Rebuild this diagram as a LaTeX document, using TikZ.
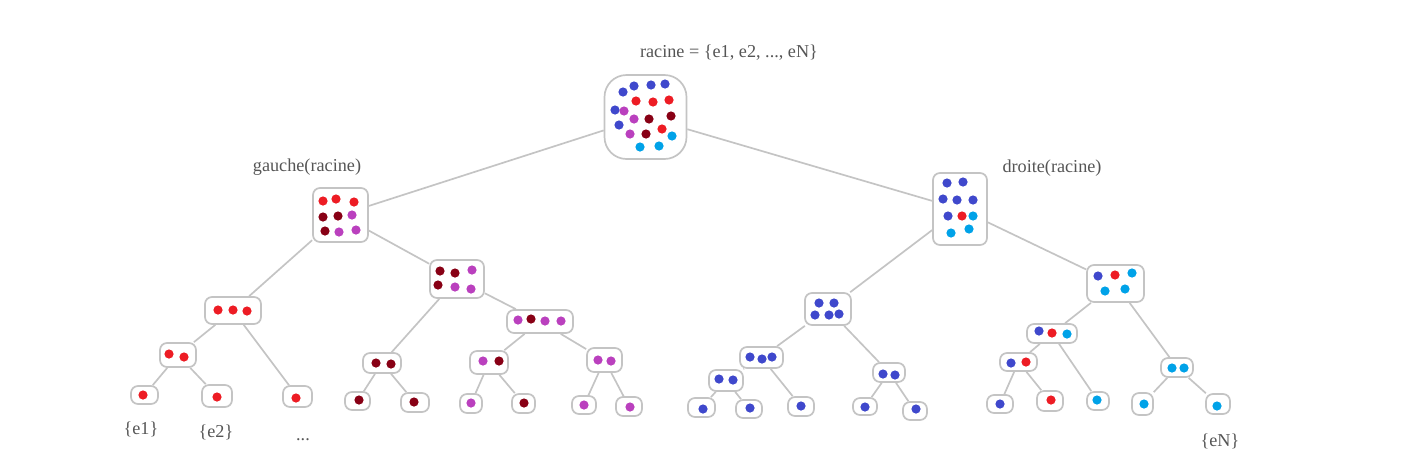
\documentclass[tikz,border=0pt]{standalone}
\usepackage{fontspec}
\setmainfont{Liberation Serif}
\definecolor{trait}{RGB}{196,196,196}
\definecolor{texte}{RGB}{85,85,85}
\definecolor{bleu}{RGB}{63,72,204}
\definecolor{rouge}{RGB}{237,28,36}
\definecolor{bordeaux}{RGB}{136,0,21}
\definecolor{violet}{RGB}{186,64,190}
\definecolor{cyan}{RGB}{0,162,232}
\begin{document}
\begin{tikzpicture}[x=1pt, y=-1pt,
		boite/.style={draw=trait, line width=1.7pt, fill=white, rounded corners=7pt, inner sep=0pt},
		lien/.style={draw=trait, line width=1.7pt},
		legende/.style={text=texte, font=\fontsize{18.2}{21}\selectfont, anchor=base}]
	\useasboundingbox (0,0) rectangle (1416,475);
	% les ensembles (centre, largeur, hauteur)
	\foreach \nom/\cx/\cy/\w/\h in {
			g/340.5/215/55/54, gl/233/310.5/56/27, gll/178/355/36/24, glll/144.5/395/27/18,
			gllr/217/396/30/22, glr/297.5/396.5/29/21, gr/457/279/54/38, grl/382/363/38/20,
			grll/357.5/401/25/18, grlr/415/402.5/28/19, grr/540/321.5/66/23, grrl/489/362.5/38/23,
			grrll/471/403.5/22/19, grrlr/523.5/403.5/23/19, grrr/604.5/360/35/24, grrrl/584/405/24/18,
			grrrr/629/406.5/26/19,
			d/960/209/54/72, dl/828/309/46/32, dll/761.5/357.5/43/21, dlll/726/380.5/34/21,
			dllll/701.5/407.5/27/19, dlllr/749/409/26/18, dllr/801/406.5/26/19, dlr/889/372.5/32/19,
			dlrl/865/406.5/24/17, dlrr/915/411/24/18, dr/1115.5/283.5/57/37, drl/1052/333.5/50/19,
			drll/1018.5/362/37/18, drlll/1000/404/26/18, drllr/1050/401/26/20, drlr/1098/401/22/18,
			drr/1177/367.5/32/19, drrl/1142.5/404/21/22, drrr/1218/404/24/20} {
		\node[boite, minimum width=\w pt, minimum height=\h pt] (\nom) at (\cx,\cy) {};
	}
	\node[boite, rounded corners=22pt, minimum width=82pt, minimum height=84pt] (racine) at (645.5,117) {};
	\foreach \a/\b in {racine/g, racine/d, g/gl, g/gr, gl/gll, gl/glr, gll/glll, gll/gllr,
			gr/grl, gr/grr, grl/grll, grl/grlr, grr/grrl, grr/grrr, grrl/grrll, grrl/grrlr,
			grrr/grrrl, grrr/grrrr, d/dl, d/dr, dl/dll, dl/dlr, dll/dlll, dll/dllr,
			dlll/dllll, dlll/dlllr, dlr/dlrl, dlr/dlrr, dr/drl, dr/drr, drl/drll, drl/drlr,
			drll/drlll, drll/drllr, drr/drrl, drr/drrr} {
		\draw[lien] (\a) -- (\b);
	}
	% les elements
	\foreach \x/\y in {623/92, 634/86, 651/85, 665/84, 615/110, 619/125,
			947/183, 963/182, 943/199, 957/200, 973/200, 948/216,
			819/303, 834/303, 815/315, 829/315, 839/314, 750/357, 762/359, 772/357,
			719/379, 733/380, 703/409, 750/408, 801/406, 883/374, 895/375, 865/407, 916/409,
			1098/276, 1039/331, 1011/363, 1000/404}
		\fill[bleu] (\x,\y) circle (4.6);
	\foreach \x/\y in {636/101, 653/102, 669/100, 662/129, 323/201, 336/199, 354/202,
			218/310, 233/310, 247/311, 169/354, 184/357, 143/395, 217/397, 296/398,
			962/216, 1115/275, 1052/333, 1026/362, 1051/400}
		\fill[rouge] (\x,\y) circle (4.6);
	\foreach \x/\y in {649/119, 671/116, 646/134, 323/217, 338/216, 325/231,
			440/271, 455/273, 438/285, 531/319, 376/363, 391/364, 359/400, 414/402,
			499/361, 524/403}
		\fill[bordeaux] (\x,\y) circle (4.6);
	\foreach \x/\y in {624/111, 634/119, 630/134, 352/215, 339/232, 356/230,
			472/270, 455/287, 471/289, 518/320, 545/321, 561/321, 483/361, 471/403,
			598/360, 611/361, 584/405, 630/407}
		\fill[violet] (\x,\y) circle (4.6);
	\foreach \x/\y in {672/136, 640/147, 659/146, 973/216, 951/233, 969/229,
			1132/273, 1105/291, 1125/289, 1067/334, 1097/400, 1172/368, 1184/368,
			1144/404, 1217/406}
		\fill[cyan] (\x,\y) circle (4.6);
	\node[legende] (tracine) at (729,57) {racine = \{e1, e2, ..., eN\}};
	\node[legende] (tgauche) at (307,171) {gauche(racine)};
	\node[legende] (tdroite) at (1052,172) {droite(racine)};
	\node[legende] (te1) at (141,434) {\{e1\}};
	\node[legende] (te2) at (216,437) {\{e2\}};
	\node[legende] (tpts) at (303,440) {...};
	\node[legende] (teN) at (1220,446) {\{eN\}};
\end{tikzpicture}
\end{document}
